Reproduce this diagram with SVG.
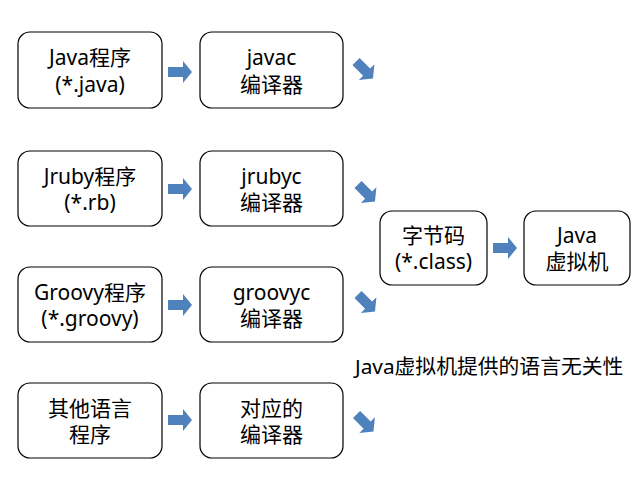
<svg xmlns="http://www.w3.org/2000/svg" width="640" height="480" viewBox="0 0 640 480">
<style>
.box{fill:#fff;stroke:#000;stroke-width:1.2}
text{font-family:"Noto Sans","Noto Sans CJK SC",sans-serif;font-size:21px;fill:#000;text-anchor:middle}
.cap{text-anchor:start;font-size:20.8px}
.arr{fill:#4F81BD}
</style>
<defs>
<path id="ar" d="M-12,-5 H3 V-11 L12,0 L3,11 V5 H-12 Z"/>
</defs>
<rect width="640" height="480" fill="#fff"/>
<g id="java-src"><rect class="box" x="18" y="32" width="144" height="76" rx="12"/><text x="90" y="65">Java程序</text><text x="90" y="92">(*.java)</text></g>
<g id="javac"><rect class="box" x="200" y="32" width="143" height="76" rx="12"/><text x="271.5" y="65">javac</text><text x="271.5" y="92">编译器</text></g>
<g id="jruby-src"><rect class="box" x="18" y="151" width="144" height="75" rx="12"/><text x="90" y="184">Jruby程序</text><text x="90" y="210">(*.rb)</text></g>
<g id="jrubyc"><rect class="box" x="200" y="151" width="143" height="75" rx="12"/><text x="271.5" y="184">jrubyc</text><text x="271.5" y="210">编译器</text></g>
<g id="groovy-src"><rect class="box" x="18" y="267" width="144" height="75" rx="12"/><text x="90" y="300">Groovy程序</text><text x="90" y="326">(*.groovy)</text></g>
<g id="groovyc"><rect class="box" x="200" y="267" width="143" height="75" rx="12"/><text x="271.5" y="300">groovyc</text><text x="271.5" y="326">编译器</text></g>
<g id="other-src"><rect class="box" x="18" y="383" width="144" height="75" rx="12"/><text x="90" y="416">其他语言</text><text x="90" y="442">程序</text></g>
<g id="other-c"><rect class="box" x="200" y="383" width="143" height="75" rx="12"/><text x="271.5" y="416">对应的</text><text x="271.5" y="442">编译器</text></g>
<g id="bytecode"><rect class="box" x="380" y="211" width="107" height="74" rx="12"/><text x="433.5" y="243">字节码</text><text x="433.5" y="269">(*.class)</text></g>
<g id="jvm"><rect class="box" x="524" y="211" width="106" height="74" rx="12"/><text x="577" y="243">Java</text><text x="577" y="269">虚拟机</text></g>
<g id="connectors" class="arr">
<use href="#ar" transform="translate(180,72)"/>
<use href="#ar" transform="translate(180,189)"/>
<use href="#ar" transform="translate(180,305)"/>
<use href="#ar" transform="translate(180,420)"/>
<use href="#ar" transform="translate(505,248)"/>
<use href="#ar" transform="translate(364.5,70) rotate(45)"/>
<use href="#ar" transform="translate(366.5,193) rotate(45)"/>
<use href="#ar" transform="translate(366.5,303) rotate(45)"/>
<use href="#ar" transform="translate(365,423) rotate(45)"/>
</g>
<text class="cap" x="355" y="374">Java虚拟机提供的语言无关性</text>
</svg>
